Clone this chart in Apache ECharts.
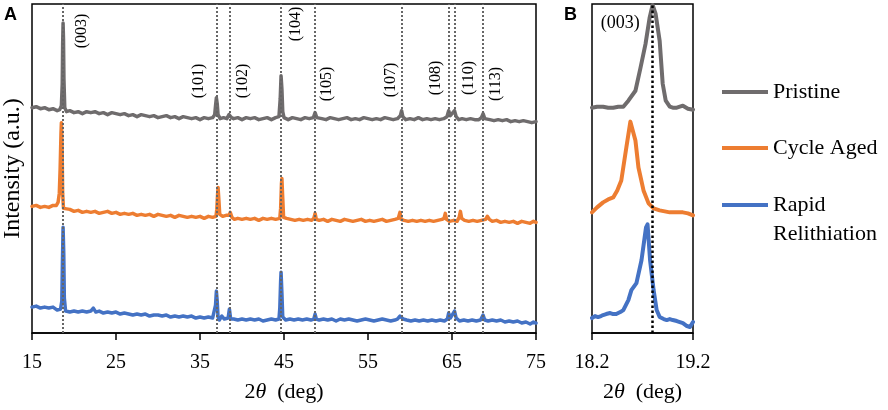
<!doctype html>
<html>
<head>
  <meta charset="utf-8">
  <title>XRD patterns</title>
  <script src="https://cdn.jsdelivr.net/npm/echarts@6/dist/echarts.min.js"></script>
  <style>
    html, body { margin: 0; padding: 0; background: #fff; }
    #main { width: 888px; height: 410px; }
  </style>
</head>
<body>
<div id="main"></div>
<script>
// series names
var names = ['Pristine', 'Cycle Aged', 'Rapid Relithiation'];
var colors = ['#6f6c6d', '#ed7d31', '#4472c4'];

// panel A: full scan, [2theta, intensity a.u.]
var pristineA = [[15,226],[15.5,227],[16,225],[16.5,226],[17,224],[17.5,225],[18,223],[18.3,224],[18.5,228],[18.6,250],[18.65,290],[18.7,311],[18.75,295],[18.8,255],[18.9,226],[19.1,222],[19.5,223],[20,221],[20.5,222],[21,220],[21.5,222],[22,221],[22.5,222],[23,220],[23.5,221],[24,219],[24.5,221],[25,220],[25.5,219],[26,220],[26.5,218],[27,219],[27.5,217],[28,219],[28.5,218],[29,217],[29.5,218],[30,216],[30.5,217],[31,218],[31.5,216],[32,217],[32.5,215],[33,217],[33.5,216],[34,215],[34.5,216],[35,214],[35.5,216],[36,215],[36.5,216],[36.75,219],[36.85,228],[36.95,236],[37.05,230],[37.15,219],[37.4,215],[37.8,216],[38.2,215],[38.45,219],[38.55,220],[38.75,216],[39,215],[39.5,216],[40,214],[40.5,216],[41,215],[41.5,216],[42,214],[42.5,215],[43,216],[43.5,214],[44,216],[44.4,217],[44.55,235],[44.65,258],[44.75,245],[44.85,222],[45,216],[45.5,214],[46,216],[46.5,215],[47,214],[47.5,216],[48,215],[48.5,216],[48.7,221],[48.9,216],[49.5,215],[50,214],[50.5,216],[51,215],[51.5,214],[52,215],[52.5,216],[53,214],[53.5,215],[54,214],[54.5,216],[55,215],[55.5,214],[56,215],[56.5,214],[57,216],[57.5,215],[58,214],[58.5,215],[58.85,218],[59,223],[59.15,217],[59.5,214],[60,215],[60.5,214],[61,216],[61.5,214],[62,215],[62.5,214],[63,215],[63.5,214],[64,215],[64.4,217],[64.6,223],[64.8,218],[64.95,217],[65.3,223],[65.5,217],[65.8,214],[66.2,215],[66.7,214],[67.2,215],[67.7,214],[68.2,214],[68.5,216],[68.7,220],[68.9,215],[69.5,214],[70,213],[70.5,214],[71,213],[71.5,214],[72,212],[72.5,213],[73,212],[73.5,213],[74,212],[74.5,211],[75,212]];

var agedA = [[15,127],[15.5,128],[16,126],[16.5,127],[17,126],[17.5,128],[17.9,128],[18.1,131],[18.25,140],[18.35,165],[18.45,200],[18.5,211],[18.58,190],[18.65,140],[18.75,125],[18.9,123],[19.5,124],[20,122],[20.5,123],[21,121],[21.5,122],[22,121],[22.5,122],[23,120],[23.5,121],[24,122],[24.5,120],[25,121],[25.5,119],[26,120],[26.5,119],[27,120],[27.5,118],[28,119],[28.5,118],[29,119],[29.5,117],[30,119],[30.5,118],[31,117],[31.5,118],[32,116],[32.5,118],[33,117],[33.5,116],[34,117],[34.5,116],[35,117],[35.5,115],[36,117],[36.5,116],[36.9,117],[37,124],[37.1,140],[37.15,146],[37.25,133],[37.35,119],[37.7,117],[38.1,118],[38.45,118],[38.6,121],[38.8,116],[39.1,114],[39.5,115],[40,114],[40.5,115],[41,114],[41.5,115],[42,113],[42.5,115],[43,114],[43.5,115],[44,114],[44.5,115],[44.6,125],[44.7,150],[44.75,155],[44.85,135],[44.95,116],[45.3,115],[45.8,114],[46.3,113],[46.8,114],[47.3,113],[47.8,114],[48.3,113],[48.55,115],[48.7,120],[48.85,114],[49.2,113],[49.7,114],[50.2,112],[50.7,114],[51.2,113],[51.7,112],[52.2,114],[52.7,113],[53.2,112],[53.7,113],[54.2,114],[54.7,112],[55.2,113],[55.7,112],[56.2,113],[56.7,114],[57.2,112],[57.7,113],[58.2,114],[58.6,115],[58.8,121],[58.95,114],[59.3,113],[59.8,112],[60.3,113],[60.8,112],[61.3,113],[61.8,112],[62.3,113],[62.8,112],[63.3,113],[63.8,114],[64.05,115],[64.2,120],[64.35,114],[64.7,112],[65.2,113],[65.6,112],[65.85,116],[66,122],[66.15,115],[66.5,113],[67,112],[67.5,113],[68,112],[68.5,113],[69,114],[69.2,117],[69.45,114],[69.8,112],[70.3,113],[70.8,111],[71.3,112],[71.8,111],[72.3,112],[72.8,110],[73.3,112],[73.8,111],[74.3,110],[74.7,112],[75,111]];

var rapidA = [[15,26],[15.5,27],[16,25],[16.5,26],[17,25],[17.5,26],[18,23],[18.4,24],[18.55,32],[18.62,70],[18.7,106],[18.78,80],[18.85,35],[19,22],[19.5,21],[20,22],[20.5,21],[21,22],[21.5,21],[22,22],[22.3,25],[22.6,21],[23,22],[23.5,20],[24,21],[24.5,20],[25,21],[25.5,19],[26,20],[26.5,19],[27,18],[27.5,19],[28,18],[28.5,19],[29,17],[29.5,18],[30,18],[30.5,17],[31,18],[31.5,16],[32,17],[32.5,16],[33,17],[33.5,16],[34,17],[34.5,15],[35,16],[35.5,15],[36,16],[36.5,15],[36.7,16],[36.85,28],[36.95,42],[37.05,32],[37.15,16],[37.3,13],[37.6,17],[37.9,14],[38.35,15],[38.5,24],[38.65,14],[39,14],[39.5,13],[40,14],[40.5,13],[41,14],[41.5,13],[42,14],[42.5,12],[43,13],[43.5,14],[44,13],[44.4,14],[44.5,25],[44.6,52],[44.65,61],[44.75,40],[44.85,16],[45.2,13],[45.7,14],[46.2,13],[46.7,14],[47.2,13],[47.7,14],[48.2,13],[48.55,14],[48.7,19],[48.85,14],[49.2,13],[49.7,14],[50.2,13],[50.7,14],[51.2,12],[51.7,14],[52.2,13],[52.7,14],[53.2,13],[53.7,12],[54.2,13],[54.7,14],[55.2,13],[55.7,12],[56.2,13],[56.7,14],[57.2,13],[57.7,12],[58.2,13],[58.5,14],[58.8,17],[59,18],[59.2,14],[59.6,13],[60.1,12],[60.6,13],[61.1,12],[61.6,13],[62.1,12],[62.6,13],[63.1,12],[63.6,13],[64.1,12],[64.45,14],[64.6,20],[64.8,15],[64.95,15],[65.3,22],[65.5,15],[65.9,12],[66.4,13],[66.9,12],[67.4,13],[67.9,12],[68.4,13],[68.55,14],[68.7,18],[68.9,13],[69.3,12],[69.8,13],[70.3,12],[70.8,13],[71.3,11],[71.8,12],[72.3,11],[72.8,12],[73.3,10],[73.8,11],[74.3,9],[74.7,11],[75,10]];

// panel B: (003) reflection close-up
var pristineB = [[18.2,226],[18.25,227],[18.31,227],[18.36,226],[18.41,226],[18.46,227],[18.51,227],[18.56,233],[18.63,243],[18.68,266],[18.73,290],[18.77,316],[18.8,329],[18.83,320],[18.87,293],[18.9,250],[18.93,233],[18.97,227],[19,226],[19.04,226],[19.07,227],[19.1,228],[19.15,225],[19.2,224]];
var agedB = [[18.2,121],[18.25,126],[18.31,131],[18.36,134],[18.41,136],[18.45,143],[18.49,153],[18.54,186],[18.58,212],[18.63,193],[18.66,166],[18.71,143],[18.76,130],[18.81,125],[18.87,123],[18.92,122],[18.97,121],[19.03,121],[19.1,121],[19.15,120],[19.2,118]];
var rapidB = [[18.2,15],[18.23,17],[18.26,16],[18.29,17],[18.31,18],[18.34,19],[18.38,20],[18.41,19],[18.44,19],[18.48,21],[18.51,23],[18.56,33],[18.59,43],[18.64,50],[18.69,73],[18.735,106],[18.75,109],[18.775,73],[18.81,43],[18.84,23],[18.87,16],[18.91,14],[18.94,13],[18.97,14],[19,13],[19.04,12],[19.07,11],[19.1,10],[19.14,7],[19.17,6],[19.2,11]];

// reflections (hkl) and their 2theta positions
var peakNames = ['(003)', '(101)', '(102)', '(104)', '(105)', '(107)', '(108)', '(110)', '(113)'];
var peakPos = [18.7, 36.95, 38.5, 44.65, 48.7, 59.0, 64.6, 65.3, 68.7];
var peak003B = 18.8;

// label layout (px offset from line, px centre height)
var labelDx = [19, -18, 13, 15, 12, -11, -13, 14, 13];
var labelY = [31, 81, 81, 24, 84, 80, 78, 78, 84];

var FONT = '"Liberation Serif", "Times New Roman", serif';

var myChart = echarts.init(document.getElementById('main'));

function xAxisOf(idx, min, max, interval) {
  return {
    type: 'value', gridIndex: idx, min: min, max: max, interval: interval,
    axisLine: { onZero: false, lineStyle: { color: '#000', width: 1.5 } },
    axisTick: { show: true, length: 7, lineStyle: { color: '#000', width: 1.5 } },
    axisLabel: {
      color: '#000', fontFamily: FONT, fontSize: 20, margin: 20,
      formatter: function (v) { return interval < 10 ? v.toFixed(1) : String(v); }
    },
    splitLine: { show: false },
    name: '2{i|θ}  (deg)', nameLocation: 'middle', nameGap: 48,
    nameTextStyle: {
      color: '#000', fontFamily: FONT, fontSize: 22,
      rich: { i: { fontStyle: 'italic', fontFamily: FONT, fontSize: 22, color: '#000' } }
    }
  };
}

function lineOf(i, data, xi, width) {
  return {
    name: names[i], type: 'line', xAxisIndex: xi, yAxisIndex: xi,
    data: data, showSymbol: false, symbol: 'none', smooth: false,
    lineStyle: { color: colors[i], width: width, join: 'round', cap: 'round' },
    itemStyle: { color: colors[i] },
    silent: true, animation: false
  };
}

var seriesList = [
  lineOf(0, pristineA, 0, 3.5),
  lineOf(1, agedA, 0, 3.5),
  lineOf(2, rapidA, 0, 3.5),
  lineOf(0, pristineB, 1, 4),
  lineOf(1, agedB, 1, 4),
  lineOf(2, rapidB, 1, 4)
];
seriesList[2].markLine = {
  silent: true, symbol: 'none', z: 10, animation: false,
  label: { show: false },
  lineStyle: { color: '#666', type: 'dotted', width: 2 },
  data: peakPos.map(function (p) { return { xAxis: p }; })
};
seriesList[5].markLine = {
  silent: true, symbol: 'none', z: 10, animation: false,
  label: { show: false },
  lineStyle: { color: '#000', type: 'dotted', width: 2.5 },
  data: [{ xAxis: peak003B }]
};

var legendText = { color: '#000', fontFamily: FONT, fontSize: 22, lineHeight: 29 };

var option = {
  animation: false,
  grid: [
    { left: 32, top: 4, width: 504, height: 329, show: true, borderColor: '#000', borderWidth: 1.5, outerBoundsMode: 'none', containLabel: false },
    { left: 592, top: 4, width: 101, height: 329, show: true, borderColor: '#000', borderWidth: 1.5, outerBoundsMode: 'none', containLabel: false }
  ],
  xAxis: [xAxisOf(0, 15, 75, 10), xAxisOf(1, 18.2, 19.2, 1)],
  yAxis: [
    {
      type: 'value', gridIndex: 0, min: 0, max: 330,
      axisLine: { show: false }, axisTick: { show: false }, axisLabel: { show: false },
      splitLine: { show: false },
      name: 'Intensity (a.u.)', nameLocation: 'middle', nameGap: 7,
      nameTextStyle: { color: '#000', fontFamily: FONT, fontSize: 24 }
    },
    {
      type: 'value', gridIndex: 1, min: 0, max: 330,
      axisLine: { show: false }, axisTick: { show: false }, axisLabel: { show: false },
      splitLine: { show: false }
    }
  ],
  legend: [
    {
      orient: 'vertical', left: 722, top: 77.5, padding: 0,
      icon: 'rect', itemWidth: 46, itemHeight: 4, itemGap: 27,
      textStyle: legendText, selectedMode: false,
      data: [names[0], names[1]]
    },
    {
      orient: 'vertical', left: 722, top: 161.5, padding: 0,
      icon: 'rect', itemWidth: 46, itemHeight: 4,
      textStyle: legendText, selectedMode: false,
      // empty first line keeps the key level with "Rapid"
      formatter: function () { return ' \nRapid\nRelithiation'; },
      data: [names[2]]
    }
  ],
  series: seriesList
};
myChart.setOption(option);

// peak labels and panel letters, placed from the axis scale
var graphics = [
  { type: 'text', left: 4, top: 6, style: { text: 'A', font: 'bold 18px "Liberation Sans", Arial, sans-serif', fill: '#000' } },
  { type: 'text', left: 564, top: 6, style: { text: 'B', font: 'bold 18px "Liberation Sans", Arial, sans-serif', fill: '#000' } }
];
peakPos.forEach(function (p, i) {
  var px = myChart.convertToPixel({ xAxisIndex: 0 }, p);
  graphics.push({
    type: 'text', x: px + labelDx[i], y: labelY[i], rotation: Math.PI / 2,
    style: { text: peakNames[i], font: '16px ' + FONT, fill: '#000', textAlign: 'center', textVerticalAlign: 'middle' }
  });
});
var bx = myChart.convertToPixel({ xAxisIndex: 1 }, 18.48);
graphics.push({
  type: 'text', x: bx, y: 23,
  style: { text: peakNames[0], font: '18px ' + FONT, fill: '#000', textAlign: 'center', textVerticalAlign: 'middle' }
});
myChart.setOption({ graphic: graphics });
</script>
</body>
</html>
